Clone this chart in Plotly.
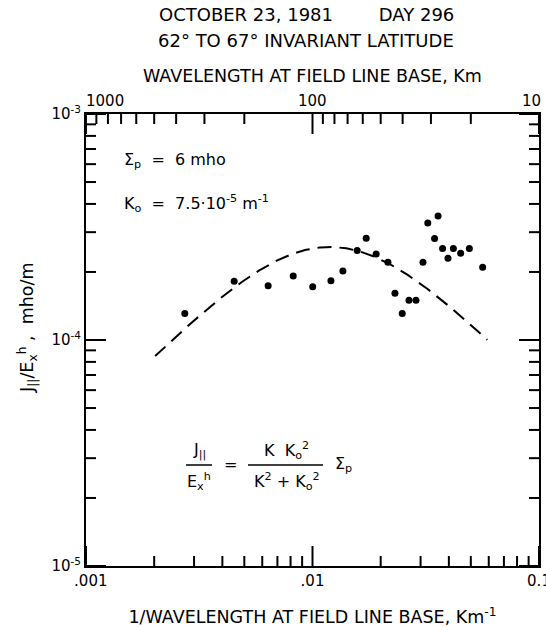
import numpy as np
import plotly.graph_objects as go

# Measured field-aligned current ratio vs. inverse wavelength at field-line base
inv_wavelength = [0.00273, 0.00451, 0.00637, 0.00822, 0.01002, 0.01206, 0.01362,
                  0.01575, 0.01726, 0.0191, 0.02153, 0.02312, 0.0249, 0.02666,
                  0.02863, 0.03074, 0.03228, 0.03459, 0.03584, 0.03752, 0.03964,
                  0.04187, 0.0451, 0.04926, 0.0564]
ratio = [1.31e-4, 1.82e-4, 1.74e-4, 1.92e-4, 1.72e-4, 1.83e-4, 2.02e-4,
         2.49e-4, 2.82e-4, 2.40e-4, 2.21e-4, 1.61e-4, 1.31e-4, 1.50e-4,
         1.50e-4, 2.21e-4, 3.29e-4, 2.81e-4, 3.54e-4, 2.54e-4, 2.30e-4,
         2.54e-4, 2.42e-4, 2.54e-4, 2.10e-4]

# Model curve  J/E = K K0^2 / (K^2 + K0^2) * Sigma_p  (shape), K = 2*pi/wavelength
k0_per_m = 7.5e-5
model_peak = 2.58e-4
model_xmin, model_xmax = 0.00202, 0.0591

# Axis tick definitions
bottom_major = [0.001, 0.01, 0.1]
bottom_labels = ["\u00a0\u00a0.001", ".01", "0.1"]
bottom_minor = [m * d for d in (0.001, 0.01) for m in range(2, 10)]
top_wavelengths = [1000, 100, 10]
top_labels = ["1000", "100", "10"]
top_label_shift = [19, 0, -8]          # px nudges keeping labels clear of corners
top_minor_wavelengths = [900, 800, 700, 600, 500, 400, 300, 200,
                         90, 80, 70, 60, 50, 40, 30, 20]
y_major = [1e-5, 1e-4, 1e-3]
y_labels = ["10<sup>-5</sup>", "10<sup>-4</sup>", "10<sup>-3</sup>"]
y_minor = [m * d for d in (1e-5, 1e-4) for m in range(2, 10)]

X_RANGE = (-3, -1)   # log10 limits
Y_RANGE = (-5, -3)
FONT = "DejaVu Sans"
PLOT_W, PLOT_H = 453, 452
MAJOR_LEN, MINOR_LEN = 20, 10          # tick lengths in pixels

curve_x = np.logspace(np.log10(model_xmin), np.log10(model_xmax), 300)
k0_per_km = k0_per_m * 1000.0
r = (2 * np.pi * curve_x) / k0_per_km
curve_y = 2 * model_peak * r / (1 + r ** 2)

fig = go.Figure()
fig.add_trace(go.Scatter(x=curve_x, y=curve_y, mode="lines",
                         line=dict(color="black", width=2, dash="14px,8px"),
                         showlegend=False, hoverinfo="skip"))
fig.add_trace(go.Scatter(x=inv_wavelength, y=ratio, mode="markers",
                         marker=dict(color="black", size=7),
                         showlegend=False))

line_common = dict(showgrid=False, zeroline=False, showline=True, mirror=True,
                   linecolor="black", linewidth=2, ticks="",
                   ticklabeloverflow="allow", automargin=False)

fig.update_layout(
    width=546, height=627,
    margin=dict(l=86, r=7, t=114, b=61, autoexpand=False),
    paper_bgcolor="white", plot_bgcolor="white",
    font=dict(family=FONT, size=15, color="black"),
    xaxis=dict(type="log", range=list(X_RANGE),
               tickmode="array", tickvals=bottom_major, ticktext=bottom_labels,
               title=dict(text="1/WAVELENGTH AT FIELD LINE BASE, Km<sup>-1</sup>",
                          standoff=24, font=dict(size=17.5)),
               **line_common),
    yaxis=dict(type="log", range=list(Y_RANGE),
               tickmode="array", tickvals=y_major, ticktext=y_labels,
               **line_common),
)

# The plot area fills the paper domain (fixed margins), so a value on a log
# axis sits at its fractional position within the axis range.
def frac(v, rng):
    return (np.log10(v) - rng[0]) / (rng[1] - rng[0])

def tick(x0, y0, x1, y1):
    fig.add_shape(type="line", xref="paper", yref="paper",
                  x0=float(x0), y0=float(y0), x1=float(x1), y1=float(y1),
                  layer="above", line=dict(color="black", width=2))

# Inward tick marks on all four sides
for vals, length in ((bottom_major, MAJOR_LEN), (bottom_minor, MINOR_LEN)):
    for v in vals:
        f = frac(v, X_RANGE)
        tick(f, 0.0, f, length / PLOT_H)
for wl, length in ((top_wavelengths, MAJOR_LEN), (top_minor_wavelengths, MINOR_LEN)):
    for w in wl:
        f = frac(1.0 / w, X_RANGE)
        tick(f, 1.0, f, 1.0 - length / PLOT_H)
for vals, length in ((y_major, MAJOR_LEN), (y_minor, MINOR_LEN)):
    for v in vals:
        f = frac(v, Y_RANGE)
        tick(0.0, f, length / PLOT_W, f)
        tick(1.0, f, 1.0 - length / PLOT_W, f)

def px_x(px):
    return (px - 86) / float(PLOT_W)

def px_y(py):
    return (566 - py) / float(PLOT_H)

# Top (wavelength) scale labels
for w, lab, sh in zip(top_wavelengths, top_labels, top_label_shift):
    fig.add_annotation(xref="paper", yref="paper", x=float(frac(1.0 / w, X_RANGE)),
                       y=px_y(101), text=lab, xshift=sh, showarrow=False,
                       xanchor="center", yanchor="middle",
                       font=dict(family=FONT, size=15, color="black"))

notes = [
    dict(text="OCTOBER 23, 1981\u00a0\u00a0\u00a0\u00a0\u00a0\u00a0\u00a0 DAY 296",
         x=px_x(306), y=px_y(15), xanchor="center", size=18),
    dict(text="62° TO 67° INVARIANT LATITUDE",
         x=px_x(306), y=px_y(41), xanchor="center", size=18),
    dict(text="WAVELENGTH AT FIELD LINE BASE, Km",
         x=0.5, y=px_y(76), xanchor="center", size=17.5),
    dict(text="\u03a3<sub>p</sub>\u00a0 = \u00a06 mho",
         x=px_x(122), y=px_y(160), xanchor="left", size=16),
    dict(text="K<sub>o</sub>\u00a0 = \u00a07.5\u00b710<sup>-5</sup> m<sup>-1</sup>",
         x=px_x(122), y=px_y(203), xanchor="left", size=16),
    dict(text="J<sub>||</sub>", x=px_x(199), y=px_y(450), xanchor="center", size=16),
    dict(text="E<sub>x</sub><sup>h</sup>", x=px_x(199), y=px_y(482),
         xanchor="center", size=16),
    dict(text="=", x=px_x(230), y=px_y(464), xanchor="center", size=16),
    dict(text="K\u00a0 K<sub>o</sub><sup>2</sup>", x=px_x(286), y=px_y(450),
         xanchor="center", size=16),
    dict(text="K<sup>2</sup> + K<sub>o</sub><sup>2</sup>", x=px_x(287), y=px_y(482),
         xanchor="center", size=16),
    dict(text="\u03a3<sub>p</sub>", x=px_x(333), y=px_y(464), xanchor="left", size=16),
]
for n in notes:
    size = n.pop("size")
    fig.add_annotation(xref="paper", yref="paper", yanchor="middle",
                       showarrow=False, font=dict(family=FONT, size=size, color="black"),
                       **n)

fig.add_annotation(xref="paper", yref="paper", x=px_x(27), y=px_y(328),
                   text="J<sub>||</sub>/E<sub>x</sub><sup>h</sup> ,\u00a0 mho/m",
                   textangle=-90, showarrow=False, xanchor="center", yanchor="middle",
                   font=dict(family=FONT, size=17.5, color="black"))

# Fraction bars of the model formula
for x0, x1 in ((186, 212), (248, 323)):
    fig.add_shape(type="line", xref="paper", yref="paper",
                  x0=px_x(x0), x1=px_x(x1), y0=px_y(465), y1=px_y(465),
                  line=dict(color="black", width=1.5))

fig.write_html("out.html")
